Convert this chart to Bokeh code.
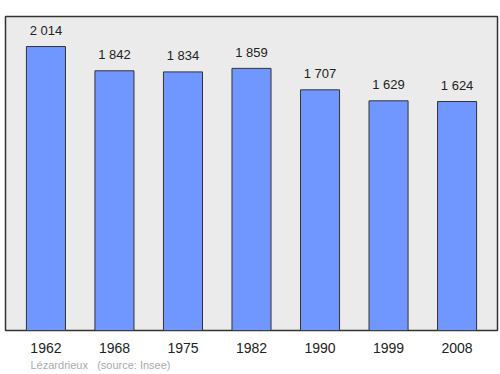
from bokeh.plotting import figure
from bokeh.models import ColumnDataSource, Range1d, FixedTicker, Title
from bokeh.core.properties import value
from bokeh.embed import file_html
from bokeh.resources import INLINE

years = ["1962", "1968", "1975", "1982", "1990", "1999", "2008"]
population = [2014, 1842, 1834, 1859, 1707, 1629, 1624]
value_labels = ["2 014", "1 842", "1 834", "1 859", "1 707", "1 629", "1 624"]
place = "Lézardrieux"
source_note = "(source: Insee)"

xs = list(range(len(years)))
src = ColumnDataSource(dict(x=xs, top=population, lab=value_labels,
                            ly=[v + 60 for v in population]))

p = figure(width=500, height=374, output_backend="svg", toolbar_location=None,
           x_range=Range1d(-0.59, 6.59), y_range=Range1d(0, 2227),
           min_border_left=5, min_border_right=3, min_border_top=16, min_border_bottom=44)
p.background_fill_color = "#ebebeb"
p.border_fill_color = "white"
p.outline_line_color = "#333333"
p.outline_line_width = 1.5
p.grid.visible = False
p.yaxis.visible = False

p.vbar(x="x", top="top", width=0.57, bottom=0, source=src,
       fill_color="#7096ff", line_color="#333333", line_width=1)
p.text(x="x", y="ly", text="lab", source=src, text_align="center",
       text_baseline="bottom", text_font=value("Liberation Sans"),
       text_font_size="13px", text_color="#222222")

xa = p.xaxis[0]
xa.ticker = FixedTicker(ticks=xs)
xa.major_label_overrides = {i: y for i, y in enumerate(years)}
xa.axis_line_color = None
xa.major_tick_line_color = None
xa.minor_tick_line_color = None
xa.major_label_text_font = "Liberation Sans"
xa.major_label_text_font_size = "14px"
xa.major_label_text_color = "#222222"
xa.major_label_standoff = 6

footer = Title(text=place + "\u00a0\u00a0\u00a0" + source_note, align="left",
               offset=25, text_font="Liberation Sans", text_font_size="11px",
               text_font_style="normal", text_color="#aaaaaa", standoff=2)
p.add_layout(footer, "below")

open("out.html", "w").write(file_html(p, INLINE))
